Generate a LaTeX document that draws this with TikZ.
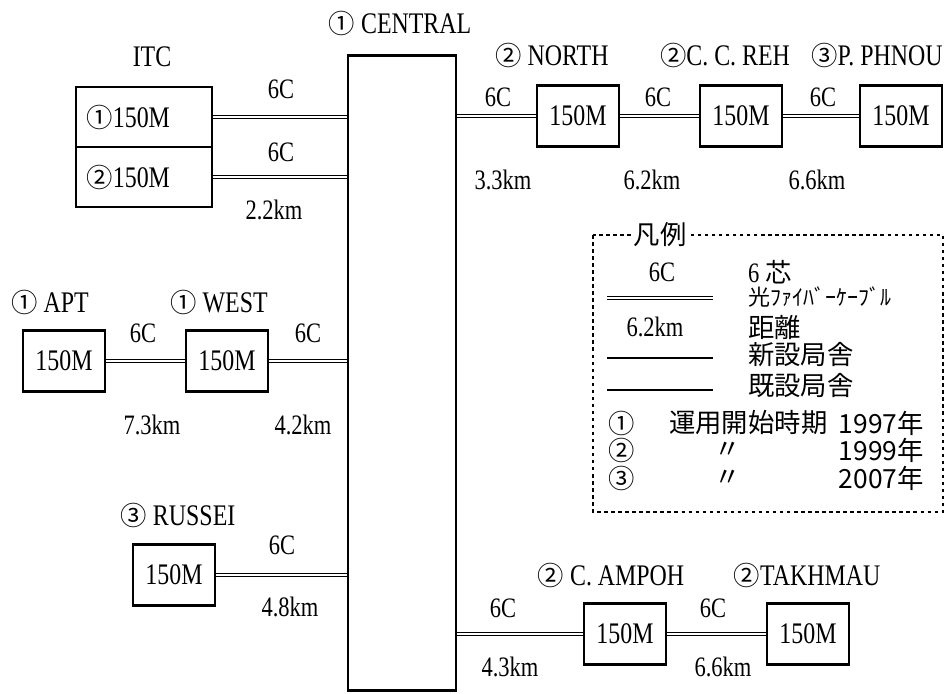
\documentclass[tikz,border=0pt]{standalone}
\usepackage{fontspec}
\setmainfont{Liberation Serif}[FakeStretch=0.8]
\newfontfamily\jp{Noto Sans CJK JP}
\usetikzlibrary{positioning}
\newcommand{\ci}[1]{{\jp\fontsize{15}{17}\selectfont #1}}

\begin{document}
\begin{tikzpicture}[stn/.style={draw,line width=1.6pt,minimum width=1.64cm,minimum height=1.22cm,inner sep=0pt,font=\fontsize{17}{20}\selectfont},itcbox/.style={draw,line width=0.6pt,text width=2.3cm,inner xsep=0.21cm,minimum height=1.2cm,align=left,font=\fontsize{17}{20}\selectfont},lbl/.style={font=\fontsize{17}{20}\selectfont},num/.style={font=\fontsize{16}{19}\selectfont},fiber/.style={double,double distance=0.7pt,line width=0.55pt},leg/.style={font=\fontsize{16}{19}\selectfont},jtx/.style={font=\jp\fontsize{15}{18}\selectfont,anchor=west}]
\useasboundingbox (0,0) rectangle (18.9,-13.88);
\node[draw,line width=1.6pt,minimum width=2.16cm,minimum height=12.7cm] (central) at (8.04,-7.46) {};
\node[lbl] (centrall) at (8.0,-0.46) {\ci{①} CENTRAL};
\node[itcbox] (itc1) at (2.88,-2.34) {\ci{①}150M};
\node[itcbox] (itc2) at (2.88,-3.54) {\ci{②}150M};
\node[lbl] (itcl) at (3.04,-1.14) {ITC};
\node[stn] (north) at (11.56,-2.32) {150M};
\node[stn] (ccreh) at (14.82,-2.32) {150M};
\node[stn] (pphnou) at (18.02,-2.32) {150M};
\node[lbl] (northl) at (11.04,-1.1) {\ci{②} NORTH};
\node[lbl] (ccrehl) at (14.5,-1.1) {\ci{②}C. C. REH};
\node[lbl] (pphnoul) at (17.54,-1.1) {\ci{③}P. PHNOU};
\node[stn] (apt) at (1.28,-7.22) {150M};
\node[stn] (west) at (4.54,-7.22) {150M};
\node[lbl] (aptl) at (1.0,-6.04) {\ci{①} APT};
\node[lbl] (westl) at (4.38,-6.04) {\ci{①} WEST};
\node[stn] (russei) at (3.48,-11.5) {150M};
\node[lbl] (russeil) at (3.56,-10.3) {\ci{③} RUSSEI};
\node[stn] (campoh) at (12.5,-12.68) {150M};
\node[stn] (takhmau) at (16.16,-12.68) {150M};
\node[lbl] (campohl) at (12.22,-11.5) {\ci{②} C. AMPOH};
\node[lbl] (takhmaul) at (16.14,-11.5) {\ci{②}TAKHMAU};
\node[num] (c1) at (5.62,-1.78) {6C};
\node[num] (c2) at (5.62,-3.04) {6C};
\node[num] (d2) at (5.48,-4.2) {2.2km};
\node[num] (c3) at (9.96,-1.94) {6C};
\node[num] (d3) at (10.06,-3.6) {3.3km};
\node[num] (c4) at (13.16,-1.94) {6C};
\node[num] (d4) at (13.04,-3.6) {6.2km};
\node[num] (c5) at (16.46,-1.94) {6C};
\node[num] (d5) at (16.34,-3.6) {6.6km};
\node[num] (c6) at (2.86,-6.66) {6C};
\node[num] (d6) at (3.04,-8.5) {7.3km};
\node[num] (c7) at (6.16,-6.66) {6C};
\node[num] (d7) at (6.06,-8.5) {4.2km};
\node[num] (c8) at (5.64,-10.9) {6C};
\node[num] (d8) at (5.8,-12.14) {4.8km};
\node[num] (c9) at (10.06,-12.16) {6C};
\node[num] (d9) at (10.2,-13.34) {4.3km};
\node[num] (c10) at (14.26,-12.16) {6C};
\node[num] (d10) at (14.46,-13.34) {6.6km};
\draw[fiber] (itc1) -- (central.west |- itc1);
\draw[fiber] (itc2) -- (central.west |- itc2);
\draw[fiber] (central.east |- north.west) -- (north.west);
\draw[fiber] (north) -- (ccreh);
\draw[fiber] (ccreh) -- (pphnou);
\draw[fiber] (apt) -- (west);
\draw[fiber] (west) -- (central.west |- west);
\draw[fiber] (russei) -- (central.west |- russei);
\draw[fiber] (central.east |- campoh) -- (campoh);
\draw[fiber] (campoh) -- (takhmau);
\draw[line width=0.6pt,dash pattern=on 2pt off 2pt] (11.86,-4.7) rectangle (18.86,-10.24);
\node[fill=white,inner sep=1pt,font=\jp\fontsize{15}{18}\selectfont] (legt) at (13.2,-4.7) {凡例};
\coordinate (k1) at (12.14,-5.96);
\coordinate (k2) at (14.26,-5.96);
\coordinate (k3) at (12.14,-7.16);
\coordinate (k4) at (14.26,-7.16);
\coordinate (k5) at (12.14,-7.8);
\coordinate (k6) at (14.26,-7.8);
\draw[fiber] (k1) -- (k2);
\draw[line width=1.6pt] (k3) -- (k4);
\draw[line width=0.6pt] (k5) -- (k6);
\node[leg] (lc) at (13.24,-5.44) {6C};
\node[jtx] (lct) at (14.84,-5.44) {\rmfamily\fontsize{16}{18}\selectfont 6 \jp\fontsize{15}{18}\selectfont 芯};
\node[jtx,font=\jp\fontsize{12.5}{15}\selectfont] (lft) at (14.84,-5.94) {光ﾌｧｲﾊﾞｰｹｰﾌﾞﾙ};
\node[leg] (ld) at (13.1,-6.54) {6.2km};
\node[jtx] (ldt) at (14.84,-6.54) {距離};
\node[jtx] (lnt) at (14.84,-7.1) {新設局舎};
\node[jtx] (let) at (14.84,-7.72) {既設局舎};
\node[font=\jp\fontsize{15}{18}\selectfont] (y1) at (12.44,-8.46) {①};
\node[font=\jp\fontsize{15}{18}\selectfont] (y2) at (12.44,-9.0) {②};
\node[font=\jp\fontsize{15}{18}\selectfont] (y3) at (12.44,-9.56) {③};
\node[jtx] (yt) at (13.26,-8.46) {運用開始時期};
\node[font=\jp\fontsize{15}{18}\selectfont] (q2) at (14.56,-9.0) {〃};
\node[font=\jp\fontsize{15}{18}\selectfont] (q3) at (14.56,-9.56) {〃};
\node[jtx,anchor=east] (v1) at (18.6,-8.46) {1997年};
\node[jtx,anchor=east] (v2) at (18.6,-9.0) {1999年};
\node[jtx,anchor=east] (v3) at (18.6,-9.56) {2007年};
\end{tikzpicture}
\end{document}
